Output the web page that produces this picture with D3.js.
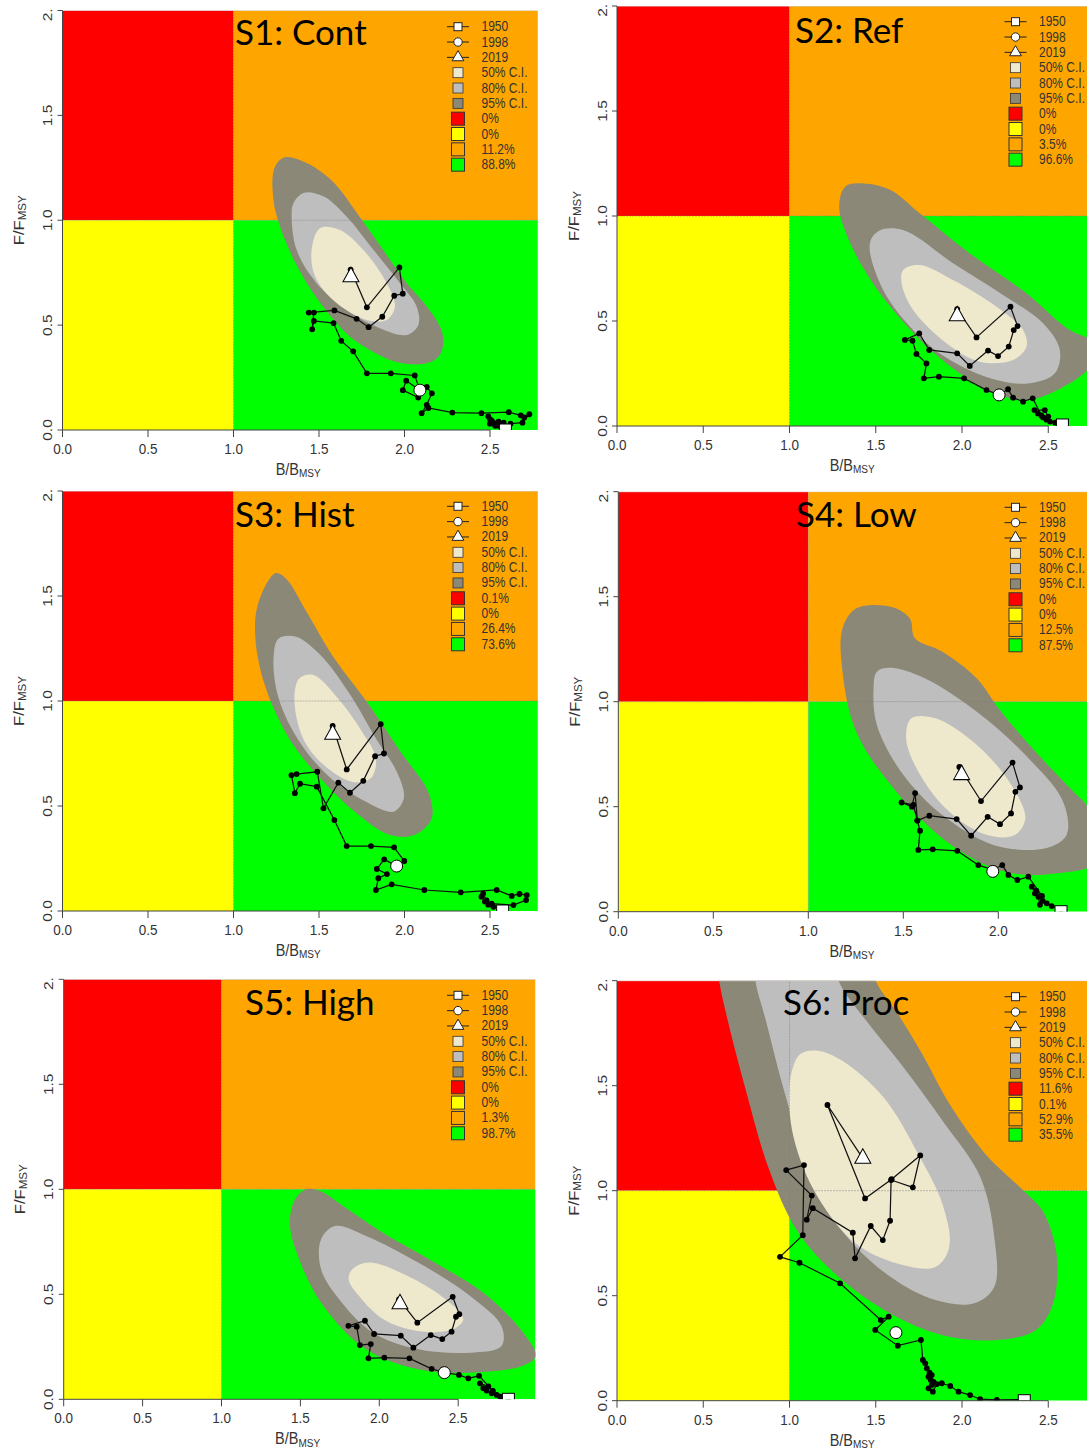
<!DOCTYPE html>
<html><head><meta charset="utf-8">
<script src="https://cdn.jsdelivr.net/npm/d3@7"></script>
<style>body{margin:0;background:#fff} svg{display:block}</style>
</head><body>
<svg id="chart" width="1087" height="1454"></svg>
<script>
// ---------------- DATA ----------------
const panelTitles = ["S1: Cont", "S2: Ref", "S3: Hist", "S4: Low", "S5: High", "S6: Proc"];
const yearLabels = ["1950", "1998", "2019"];
const ciLabels = ["50% C.I.", "80% C.I.", "95% C.I."];
const quadPct = [
  ["0%", "0%", "11.2%", "88.8%"],
  ["0%", "0%", "3.5%", "96.6%"],
  ["0.1%", "0%", "26.4%", "73.6%"],
  ["0%", "0%", "12.5%", "87.5%"],
  ["0%", "0%", "1.3%", "98.7%"],
  ["11.6%", "0.1%", "52.9%", "35.5%"]
];
const xTicks = [0, 0.5, 1, 1.5, 2, 2.5];
const xTickLabels = ["0.0", "0.5", "1.0", "1.5", "2.0", "2.5"];
const yTicks = [0, 0.5, 1, 1.5, 2];
const yTickLabels = ["0.0", "0.5", "1.0", "1.5", "2.0"];

// trajectories [B/Bmsy, F/Fmsy], 1950 -> 2019
const traj1 = [[2.59,0.01],[2.55,0.02],[2.52,0.035],[2.50,0.05],[2.49,0.065],[2.51,0.045],[2.50,0.03],[2.53,0.02],[2.55,0.04],[2.58,0.035],[2.57,0.02],[2.60,0.015],[2.62,0.03],[2.69,0.035],[2.73,0.075],[2.70,0.06],[2.68,0.07],[2.61,0.085],[2.45,0.08],[2.28,0.083],[2.14,0.105],[2.10,0.08],[2.13,0.12],[2.16,0.175],[2.13,0.205],[2.08,0.155],[1.99,0.19],[2.01,0.235],[2.09,0.19],[2.06,0.26],[1.92,0.27],[1.78,0.27],[1.70,0.375],[1.63,0.425],[1.585,0.51],[1.47,0.52],[1.46,0.48],[1.47,0.56],[1.44,0.56],[1.59,0.57],[1.72,0.53],[1.79,0.49],[1.87,0.54],[1.94,0.64],[1.99,0.65],[1.97,0.775],[1.78,0.585],[1.685,0.765]];
const traj2 = [[2.58,0.005],[2.54,0.016],[2.51,0.021],[2.49,0.03],[2.47,0.041],[2.44,0.06],[2.42,0.076],[2.48,0.076],[2.50,0.045],[2.46,0.05],[2.41,0.132],[2.354,0.116],[2.296,0.135],[2.267,0.175],[2.215,0.148],[2.142,0.171],[2.012,0.227],[1.866,0.235],[1.779,0.227],[1.794,0.298],[1.736,0.343],[1.713,0.406],[1.669,0.41],[1.752,0.441],[1.81,0.362],[1.972,0.346],[2.045,0.286],[2.151,0.359],[2.209,0.333],[2.271,0.378],[2.30,0.457],[2.322,0.476],[2.281,0.568],[2.084,0.422],[1.972,0.556]];
const traj3 = [[2.574,0.0],[2.52,0.02],[2.49,0.03],[2.47,0.045],[2.45,0.068],[2.46,0.083],[2.48,0.05],[2.51,0.035],[2.637,0.028],[2.711,0.052],[2.715,0.076],[2.672,0.081],[2.627,0.072],[2.539,0.1],[2.329,0.089],[2.116,0.1],[1.925,0.127],[1.833,0.1],[1.847,0.156],[1.897,0.176],[1.838,0.2],[1.881,0.246],[1.954,0.214],[1.999,0.238],[1.939,0.303],[1.804,0.309],[1.662,0.309],[1.59,0.433],[1.487,0.592],[1.389,0.606],[1.359,0.561],[1.339,0.647],[1.369,0.652],[1.49,0.663],[1.526,0.489],[1.613,0.611],[1.681,0.563],[1.759,0.62],[1.828,0.737],[1.88,0.75],[1.861,0.89],[1.662,0.674],[1.58,0.881]];
const traj4 = [[2.33,0.011],[2.281,0.027],[2.255,0.04],[2.234,0.052],[2.219,0.033],[2.211,0.071],[2.193,0.087],[2.176,0.119],[2.20,0.10],[2.23,0.075],[2.158,0.167],[2.1,0.151],[2.053,0.175],[2.021,0.222],[1.971,0.2],[1.895,0.222],[1.784,0.29],[1.655,0.297],[1.579,0.294],[1.588,0.386],[1.574,0.434],[1.553,0.509],[1.491,0.52],[1.545,0.50],[1.562,0.565],[1.574,0.434],[1.637,0.457],[1.781,0.441],[1.857,0.362],[1.944,0.452],[2.009,0.417],[2.067,0.468],[2.09,0.571],[2.114,0.592],[2.075,0.71],[1.909,0.527],[1.795,0.689]];
const traj5 = [[2.818,0.005],[2.765,0.013],[2.744,0.021],[2.712,0.029],[2.68,0.042],[2.659,0.053],[2.638,0.076],[2.691,0.061],[2.72,0.04],[2.632,0.112],[2.564,0.1],[2.505,0.116],[2.412,0.127],[2.332,0.145],[2.191,0.195],[2.032,0.198],[1.931,0.195],[1.946,0.263],[1.877,0.258],[1.857,0.346],[1.804,0.35],[1.909,0.374],[1.967,0.311],[2.136,0.303],[2.216,0.246],[2.326,0.306],[2.399,0.287],[2.458,0.322],[2.486,0.393],[2.507,0.405],[2.465,0.488],[2.241,0.365],[2.125,0.476]];
const traj6 = [[2.361,0.005],[2.202,0.004],[2.105,0.007],[2.047,0.027],[1.98,0.043],[1.932,0.07],[1.883,0.083],[1.854,0.079],[1.831,0.043],[1.806,0.059],[1.825,0.075],[1.835,0.09],[1.819,0.098],[1.806,0.114],[1.825,0.122],[1.812,0.134],[1.796,0.154],[1.787,0.178],[1.773,0.194],[1.762,0.289],[1.628,0.262],[1.497,0.337],[1.575,0.40],[1.529,0.384],[1.293,0.559],[1.058,0.657],[0.945,0.685],[1.077,0.788],[1.084,1.122],[0.981,1.098],[1.129,0.977],[1.10,0.862],[1.135,0.917],[1.367,0.8],[1.38,0.678],[1.471,0.832],[1.541,0.765],[1.583,0.857],[1.589,1.051],[1.715,1.016],[1.758,1.168],[1.592,1.055],[1.438,0.963],[1.22,1.408],[1.425,1.154]];

// year markers: 1950 (square), 1998 (circle), 2019 (triangle)
const marks1 = [[2.59,0.0],[2.09,0.19],[1.687,0.73]];
const marks2 = [[2.582,0.005],[2.215,0.148],[1.972,0.524]];
const marks3 = [[2.574,0.0],[1.954,0.214],[1.58,0.841]];
const marks4 = [[2.33,0.0],[1.971,0.192],[1.807,0.652]];
const marks5 = [[2.818,0.0],[2.412,0.127],[2.131,0.454]];
const marks6 = [[2.361,0.0],[1.617,0.324],[1.425,1.154]];

// confidence region outlines (95%, 80%, 50%)
const ci95_1 = [[1.30,1.30],[1.24,1.25],[1.233,1.10],[1.272,0.97],[1.36,0.80],[1.467,0.652],[1.581,0.53],[1.681,0.445],[1.80,0.38],[1.915,0.334],[2.02,0.315],[2.13,0.318],[2.20,0.35],[2.227,0.42],[2.208,0.493],[2.12,0.60],[2.013,0.70],[1.90,0.83],[1.779,0.97],[1.70,1.06],[1.623,1.146],[1.53,1.22],[1.428,1.273]];
const ci80_1 = [[1.409,1.13],[1.35,1.08],[1.34,1.018],[1.369,0.859],[1.486,0.70],[1.661,0.573],[1.856,0.485],[2.013,0.453],[2.081,0.501],[2.071,0.589],[1.974,0.70],[1.818,0.859],[1.661,1.018],[1.525,1.114]];
const ci50_1 = [[1.506,0.962],[1.457,0.859],[1.477,0.732],[1.603,0.605],[1.779,0.525],[1.896,0.525],[1.944,0.589],[1.896,0.70],[1.759,0.859],[1.623,0.954]];
const ci95_2 = [[1.324,1.14],[1.288,1.044],[1.344,0.886],[1.484,0.679],[1.685,0.473],[1.886,0.314],[2.146,0.171],[2.387,0.124],[2.625,0.203],[2.76,0.29],[2.85,0.37],[2.80,0.40],[2.625,0.457],[2.374,0.632],[2.045,0.822],[1.755,1.013],[1.585,1.124],[1.43,1.155]];
const ci80_2 = [[1.466,0.87],[1.52,0.93],[1.659,0.933],[1.948,0.775],[2.238,0.624],[2.47,0.489],[2.567,0.362],[2.538,0.251],[2.393,0.203],[2.2,0.219],[1.948,0.306],[1.755,0.425],[1.543,0.648]];
const ci50_2 = [[1.659,0.743],[1.755,0.767],[1.948,0.695],[2.2,0.568],[2.354,0.457],[2.374,0.378],[2.296,0.314],[2.103,0.306],[1.910,0.394],[1.717,0.552],[1.65,0.68]];
const ci95_3 = [[1.244,1.608],[1.142,1.457],[1.128,1.298],[1.183,1.076],[1.325,0.822],[1.508,0.632],[1.732,0.457],[1.915,0.362],[2.057,0.362],[2.159,0.441],[2.138,0.568],[1.976,0.759],[1.793,0.981],[1.589,1.203],[1.427,1.425],[1.305,1.584]];
const ci80_3 = [[1.264,1.298],[1.234,1.203],[1.264,1.013],[1.386,0.806],[1.569,0.632],[1.772,0.521],[1.935,0.473],[1.996,0.537],[1.955,0.663],[1.833,0.822],[1.671,1.044],[1.508,1.219],[1.366,1.306]];
const ci50_3 = [[1.386,1.108],[1.356,1.013],[1.407,0.822],[1.528,0.695],[1.691,0.616],[1.803,0.632],[1.833,0.727],[1.752,0.854],[1.610,1.013],[1.467,1.124]];
const ci95_4 = [[1.252,1.444],[1.434,1.452],[1.534,1.397],[1.561,1.302],[1.706,1.238],[1.887,1.111],[2.015,0.952],[2.196,0.762],[2.396,0.571],[2.465,0.508],[2.55,0.38],[2.55,0.25],[2.465,0.206],[2.305,0.183],[2.16,0.175],[1.978,0.206],[1.706,0.349],[1.434,0.603],[1.252,0.857],[1.18,1.143],[1.18,1.349]];
const ci80_4 = [[1.361,1.143],[1.434,1.162],[1.615,1.111],[1.887,0.952],[2.16,0.73],[2.341,0.524],[2.359,0.365],[2.25,0.302],[1.978,0.317],[1.706,0.46],[1.488,0.667],[1.361,0.889],[1.343,1.048]];
const ci50_4 = [[1.543,0.921],[1.67,0.921],[1.887,0.794],[2.069,0.603],[2.142,0.444],[2.087,0.365],[1.942,0.365],[1.742,0.476],[1.579,0.667],[1.515,0.825]];
const ci95_5 = [[1.536,1.0],[1.624,0.992],[1.8,0.905],[2.02,0.794],[2.352,0.651],[2.686,0.492],[2.927,0.302],[2.993,0.206],[2.905,0.159],[2.576,0.127],[2.246,0.143],[1.916,0.238],[1.631,0.46],[1.477,0.698],[1.433,0.841],[1.466,0.952]];
const ci80_5 = [[1.631,0.762],[1.719,0.825],[1.916,0.778],[2.246,0.651],[2.576,0.492],[2.774,0.349],[2.774,0.254],[2.576,0.222],[2.246,0.238],[1.96,0.317],[1.763,0.46],[1.631,0.619]];
const ci50_5 = [[1.829,0.619],[1.938,0.651],[2.18,0.587],[2.42,0.476],[2.532,0.381],[2.466,0.333],[2.246,0.325],[2.026,0.381],[1.872,0.492],[1.806,0.571]];
const ci95_6 = [[0.57,2.15],[0.592,2.0],[0.642,1.81],[0.742,1.493],[0.883,1.098],[1.043,0.811],[1.284,0.590],[1.585,0.415],[1.886,0.312],[2.187,0.288],[2.427,0.336],[2.528,0.463],[2.548,0.700],[2.47,0.90],[2.37,0.99],[2.13,1.18],[1.93,1.41],[1.77,1.65],[1.63,1.84],[1.50,2.0],[1.46,2.15]];
const ci80_6 = [[0.79,2.15],[0.802,2.0],[0.863,1.81],[0.963,1.493],[1.103,1.128],[1.304,0.811],[1.585,0.590],[1.846,0.479],[2.066,0.463],[2.187,0.542],[2.187,0.780],[2.106,1.065],[1.886,1.334],[1.645,1.604],[1.444,1.81],[1.284,2.0],[1.25,2.15]];
const ci50_6 = [[1.063,1.651],[1.003,1.525],[1.023,1.257],[1.163,0.971],[1.384,0.748],[1.625,0.653],[1.846,0.637],[1.926,0.732],[1.886,0.938],[1.745,1.176],[1.545,1.445],[1.304,1.62],[1.163,1.667]];

const trajs = [traj1, traj2, traj3, traj4, traj5, traj6];
const marks = [marks1, marks2, marks3, marks4, marks5, marks6];
const ci95 = [ci95_1, ci95_2, ci95_3, ci95_4, ci95_5, ci95_6];
const ci80 = [ci80_1, ci80_2, ci80_3, ci80_4, ci80_5, ci80_6];
const ci50 = [ci50_1, ci50_2, ci50_3, ci50_4, ci50_5, ci50_6];
const xMax = [2.78, 2.75, 2.78, 2.48, 2.99, 2.75];

// ---------------- STYLE / LAYOUT ----------------
const quadColors = ["#FF0000", "#FFFF00", "#FFA500", "#00FF00"];
const ciColors = ["#EEE8CD", "#BEBEBE", "#8B8878"];
const layout = [
  {x0:62.5, y0:430,   y1:10.5,  unit:171,   legX:458,    legY:26.7,  titleX:235, titleY:45},
  {x0:617,  y0:426,   y1:6,     unit:172.5, legX:1015.5, legY:21.7,  titleX:795, titleY:43},
  {x0:62.5, y0:911,   y1:491,   unit:171,   legX:458,    legY:506.3, titleX:235, titleY:527},
  {x0:618.3,y0:911.7, y1:491.7, unit:190,   legX:1015.5, legY:507.3, titleX:796, titleY:527},
  {x0:63.7, y0:1399.3,y1:979.3, unit:157.8, legX:458,    legY:995.3, titleX:245, titleY:1015},
  {x0:617,  y0:1400.7,y1:980.7, unit:172.5, legX:1015.5, legY:996.7, titleX:783, titleY:1015}
];
const RFONT = "'Liberation Sans', Arial, sans-serif";
const STRETCH = 1.15;

const svg = d3.select("#chart");
svg.append("rect").attr("width",1087).attr("height",1454).attr("fill","#fff");
const defs = svg.append("defs");

function rtext(g, x, y, str, size, anchor, rot) {
  const t = g.append("text")
    .attr("transform", `translate(${x},${y}) scale(1,${STRETCH})` + (rot ? ` rotate(${rot})` : ""))
    .attr("font-family", RFONT).attr("font-size", size).attr("fill", "#333")
    .attr("text-anchor", anchor || "start");
  t.text(str);
  return t;
}

layout.forEach((L, i) => {
  const x = d3.scaleLinear().domain([0, xMax[i]]).range([L.x0, L.x0 + xMax[i] * L.unit]);
  const y = d3.scaleLinear().domain([0, 2]).range([L.y0, L.y1]);
  const xr = x.range()[1];
  const ticksHere = xTicks.map((v, k) => [v, xTickLabels[k]]).filter(d => d[0] <= xMax[i] - 0.05);

  defs.append("clipPath").attr("id", "plot" + i).append("rect")
    .attr("x", L.x0).attr("y", L.y1).attr("width", xr - L.x0).attr("height", L.y0 - L.y1);
  defs.append("clipPath").attr("id", "panel" + i).append("rect")
    .attr("x", L.x0 - 70).attr("y", L.y1 - 1).attr("width", 620).attr("height", 480);

  const pg = svg.append("g").attr("clip-path", `url(#panel${i})`);
  const plot = pg.append("g").attr("clip-path", `url(#plot${i})`);

  // quadrants
  const quads = [
    {x:[0,1], y:[1,2], c:quadColors[0]},
    {x:[0,1], y:[0,1], c:quadColors[1]},
    {x:[1,xMax[i]], y:[1,2], c:quadColors[2]},
    {x:[1,xMax[i]], y:[0,1], c:quadColors[3]}
  ];
  plot.selectAll("rect.q").data(quads).enter().append("rect")
    .attr("x", d => x(d.x[0])).attr("y", d => y(d.y[1]))
    .attr("width", d => x(d.x[1]) - x(d.x[0])).attr("height", d => y(d.y[0]) - y(d.y[1]))
    .attr("fill", d => d.c);

  // confidence regions
  const area = d3.line().x(d => x(d[0])).y(d => y(d[1])).curve(d3.curveCatmullRomClosed.alpha(0.5));
  [[ci95[i], ciColors[2]], [ci80[i], ciColors[1]], [ci50[i], ciColors[0]]].forEach(([pts, c]) => {
    plot.append("path").attr("d", area(pts)).attr("fill", c).attr("stroke", "none");
  });

  // reference lines
  plot.append("line").attr("x1", x(1)).attr("x2", x(1)).attr("y1", y(0)).attr("y2", y(2))
    .attr("stroke", "#7f7f7f").attr("stroke-opacity", 0.5).attr("stroke-width", 1).attr("stroke-dasharray", "2,1");
  plot.append("line").attr("x1", x(0)).attr("x2", xr).attr("y1", y(1)).attr("y2", y(1))
    .attr("stroke", "#7f7f7f").attr("stroke-opacity", 0.5).attr("stroke-width", 1).attr("stroke-dasharray", "2,1");
  plot.append("line").attr("x1", x(0)).attr("x2", xr).attr("y1", y(2)).attr("y2", y(2))
    .attr("stroke", "#cfcfcf").attr("stroke-width", 1);

  // trajectory
  const ln = d3.line().x(d => x(d[0])).y(d => y(d[1]));
  plot.append("path").attr("d", ln(trajs[i])).attr("fill", "none").attr("stroke", "#111").attr("stroke-width", 1.25);
  plot.selectAll("circle.pt").data(trajs[i]).enter().append("circle")
    .attr("cx", d => x(d[0])).attr("cy", d => y(d[1])).attr("r", 2.9).attr("fill", "#000");

  // year markers
  const m = marks[i];
  plot.append("rect").attr("x", x(m[0][0]) - 6).attr("y", y(m[0][1]) - 6).attr("width", 12).attr("height", 12)
    .attr("fill", "#fff").attr("stroke", "#000").attr("stroke-width", 1);
  plot.append("circle").attr("cx", x(m[1][0])).attr("cy", y(m[1][1])).attr("r", 6)
    .attr("fill", "#fff").attr("stroke", "#000").attr("stroke-width", 1);
  plot.append("path").attr("d", d3.symbol(d3.symbolTriangle, 110)())
    .attr("transform", `translate(${x(m[2][0])},${y(m[2][1])}) scale(1,1.05)`)
    .attr("fill", "#fff").attr("stroke", "#000").attr("stroke-width", 1);

  // axes
  const ax = pg.append("g");
  const lastTick = ticksHere[ticksHere.length - 1][0];
  ax.append("line").attr("x1", x(0)).attr("x2", x(lastTick)).attr("y1", L.y0).attr("y2", L.y0).attr("stroke", "#444");
  ticksHere.forEach(([v, lab]) => {
    ax.append("line").attr("x1", x(v)).attr("x2", x(v)).attr("y1", L.y0).attr("y2", L.y0 + 7).attr("stroke", "#444");
    rtext(ax, x(v), L.y0 + 24, lab, 13.5, "middle");
  });
  ax.append("line").attr("x1", L.x0).attr("x2", L.x0).attr("y1", y(0)).attr("y2", y(2)).attr("stroke", "#444");
  yTicks.forEach((v, k) => {
    ax.append("line").attr("x1", L.x0 - 5).attr("x2", L.x0).attr("y1", y(v)).attr("y2", y(v)).attr("stroke", "#444");
    ax.append("text")
      .attr("transform", `translate(${L.x0 - 10.5},${y(v)}) scale(1,${STRETCH}) rotate(-90)`)
      .attr("font-family", RFONT).attr("font-size", 13.5).attr("fill", "#333").attr("text-anchor", "middle")
      .text(yTickLabels[k]);
  });
  // axis titles
  const xt = rtext(ax, (L.x0 + xr) / 2 - 2, L.y0 + 45, "", 14.5, "middle");
  xt.append("tspan").text("B/B");
  xt.append("tspan").attr("font-size", 10).attr("dy", 2).text("MSY");
  const yt = ax.append("text")
    .attr("transform", `translate(${L.x0 - 38.5},${(L.y0 + L.y1) / 2}) scale(1,${STRETCH}) rotate(-90)`)
    .attr("font-family", RFONT).attr("font-size", 14.5).attr("fill", "#333").attr("text-anchor", "middle");
  yt.append("tspan").text("F/F");
  yt.append("tspan").attr("font-size", 10).attr("dy", 2).text("MSY");

  // title
  pg.append("text").attr("x", L.titleX).attr("y", L.titleY)
    .attr("font-family", "Lato, 'Open Sans', sans-serif").attr("font-size", 35).attr("fill", "#000")
    .text(panelTitles[i]);

  // legend
  const lg = pg.append("g");
  const step = 15.33;
  const labels = yearLabels.concat(ciLabels, quadPct[i]);
  labels.forEach((lab, k) => {
    const cy = L.legY + k * step;
    const sx = L.legX;
    if (k < 3) {
      lg.append("line").attr("x1", sx - 11).attr("x2", sx + 11).attr("y1", cy).attr("y2", cy).attr("stroke", "#222");
      if (k === 0) lg.append("rect").attr("x", sx - 4).attr("y", cy - 4).attr("width", 8).attr("height", 8).attr("fill", "#fff").attr("stroke", "#222");
      if (k === 1) lg.append("circle").attr("cx", sx).attr("cy", cy).attr("r", 4.2).attr("fill", "#fff").attr("stroke", "#222");
      if (k === 2) lg.append("path").attr("d", d3.symbol(d3.symbolTriangle, 60)()).attr("transform", `translate(${sx},${cy})`).attr("fill", "#fff").attr("stroke", "#222");
    } else if (k < 6) {
      lg.append("rect").attr("x", sx - 5).attr("y", cy - 5).attr("width", 10).attr("height", 10)
        .attr("fill", ciColors[k - 3]).attr("stroke", "#333").attr("stroke-width", 0.8);
    } else {
      lg.append("rect").attr("x", sx - 6.5).attr("y", cy - 6.5).attr("width", 13).attr("height", 13)
        .attr("fill", quadColors[k - 6]).attr("stroke", "#333").attr("stroke-width", 1);
    }
    rtext(lg, L.legX + 23.5, cy + 4.5, lab, 12, "start");
  });
});
</script>
</body></html>
